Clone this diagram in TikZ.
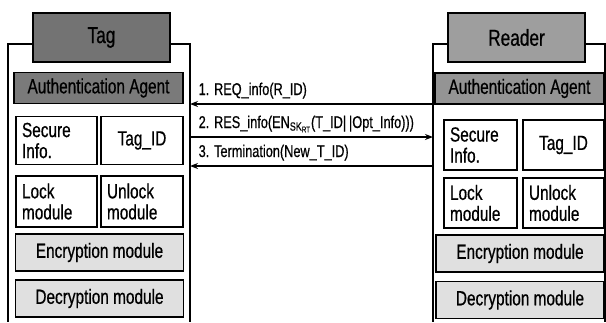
\documentclass[tikz,border=0pt]{standalone}
\usepackage{fontspec}
\setmainfont{Liberation Sans}[FakeStretch=0.75, FakeBold=0.6]
\usetikzlibrary{positioning, arrows.meta}

\begin{document}
\begin{tikzpicture}[
    x=1pt, y=-1pt,
    >={Stealth[length=8pt, width=6pt]},
    font=\fontsize{20.5}{21}\selectfont,
    title/.style={
        draw, line width=1.3pt, inner sep=0pt,
        minimum width=137pt, minimum height=49pt,
        font=\fontsize{23}{24}\selectfont,
    },
    agent/.style={
        draw, line width=1.3pt, inner sep=0pt,
        minimum width=169pt, minimum height=31pt,
    },
    cell/.style={
        draw, line width=1.3pt, text width=#1,
        inner xsep=6pt, inner ysep=0pt,
        minimum height=48pt, align=left,
    },
    module/.style={
        draw, line width=1.3pt, fill=black!12, inner sep=0pt,
        minimum width=168pt, minimum height=37pt,
    },
    frame/.style={line width=1.1pt},
    msg/.style={->, line width=1.4pt},
    lbl/.style={
        anchor=base west, inner sep=0pt, xshift=8pt, yshift=9pt,
        font=\fontsize{17}{18}\selectfont,
    },
]
\useasboundingbox (0,0) rectangle (606,322);

% tag side
\node[title, fill=black!55] (tagT) at (101.5,37.5) {Tag};
\node[agent, fill=black!52] (tagAA) at (98.5,88) {Authentication Agent};
\node[cell=69pt] (tagSI) at (56.5,140.5) {Secure\\Info.};
\node[cell=70pt, align=center] (tagID) at (142,140.5) {Tag\_ID};
\node[cell=69pt, minimum height=51pt] (tagLK) at (56.5,201.5) {Lock\\module};
\node[cell=70pt, minimum height=51pt] (tagUL) at (142,201.5) {Unlock\\module};
\node[module] (tagEN) at (99.5,252.5) {Encryption module};
\node[module] (tagDE) at (99.5,298.5) {Decryption module};

% reader side
\node[title, fill=black!38] (rdrT) at (516.5,37.5) {Reader};
\node[agent, fill=black!42] (rdrAA) at (519.5,88.5) {Authentication Agent};
\node[cell=61pt, minimum height=50pt] (rdrSI) at (480.5,145) {Secure\\Info.};
\node[cell=69pt, minimum height=50pt, align=center] (rdrID) at (563.5,145) {Tag\_ID};
\node[cell=61pt, minimum height=50pt] (rdrLK) at (480.5,203) {Lock\\module};
\node[cell=69pt, minimum height=50pt] (rdrUL) at (563.5,203) {Unlock\\module};
\node[module] (rdrEN) at (520,253.5) {Encryption module};
\node[module] (rdrDE) at (520,300) {Decryption module};

% open frames under the titles
\foreach \n/\l/\r in {tagT/8/190, rdrT/433/605} {
    \draw[frame] (\n.west |- 0,44) -| (\l,322);
    \draw[frame] (\n.east |- 0,44) -| (\r,322);
}

% message ends on the frames
\foreach \k/\y in {1/104, 2/137, 3/166} {
    \coordinate (t\k) at (190,\y);
    \coordinate (r\k) at (433,\y);
}

% --- messages ---
\draw[msg] (r1) -- node[pos=1, lbl] {1. REQ\_info(R\_ID)} (t1);
\draw[msg] (t2) -- node[pos=0, lbl] {2. RES\_info(EN\textsubscript{SK\textsubscript{RT}}(T\_ID|\,|Opt\_Info)))} (r2);
\draw[msg] (r3) -- node[pos=1, lbl] {3. Termination(New\_T\_ID)} (t3);

\end{tikzpicture}
\end{document}
